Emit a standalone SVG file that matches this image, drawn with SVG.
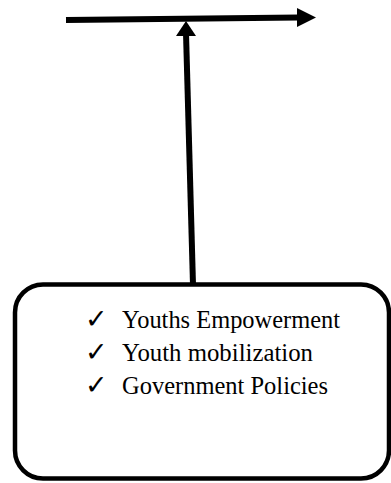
<svg xmlns="http://www.w3.org/2000/svg" width="391" height="483" viewBox="0 0 391 483">
<style>
.ln{stroke:#000;stroke-width:6;fill:none}
.hd{fill:#000;stroke:none}
.box{fill:#fff;stroke:#000;stroke-width:4.5}
.t{font-family:"Liberation Serif","Times New Roman",serif;font-size:25px;fill:#000}
.ck{font-family:"DejaVu Sans",sans-serif;font-size:27px;fill:#000}
</style>
<rect width="391" height="483" fill="#fff"/>
<g id="connectors">
<line class="ln" x1="66" y1="20" x2="299" y2="17.5"/>
<polygon class="hd" points="297,8 316,17.5 297,27"/>
<line class="ln" x1="193" y1="285" x2="186" y2="33"/>
<polygon class="hd" points="176,36 186,21 196,36"/>
</g>
<g id="factors">
<rect class="box" x="15" y="284.5" width="374" height="194" rx="28" ry="28"/>
<text class="ck" x="85" y="328">✓</text>
<text class="t" x="122" y="328" textLength="218" lengthAdjust="spacingAndGlyphs">Youths Empowerment</text>
<text class="ck" x="85" y="361">✓</text>
<text class="t" x="122" y="361" textLength="191" lengthAdjust="spacingAndGlyphs">Youth mobilization</text>
<text class="ck" x="85" y="394">✓</text>
<text class="t" x="122" y="394" textLength="206" lengthAdjust="spacingAndGlyphs">Government Policies</text>
</g>
</svg>
